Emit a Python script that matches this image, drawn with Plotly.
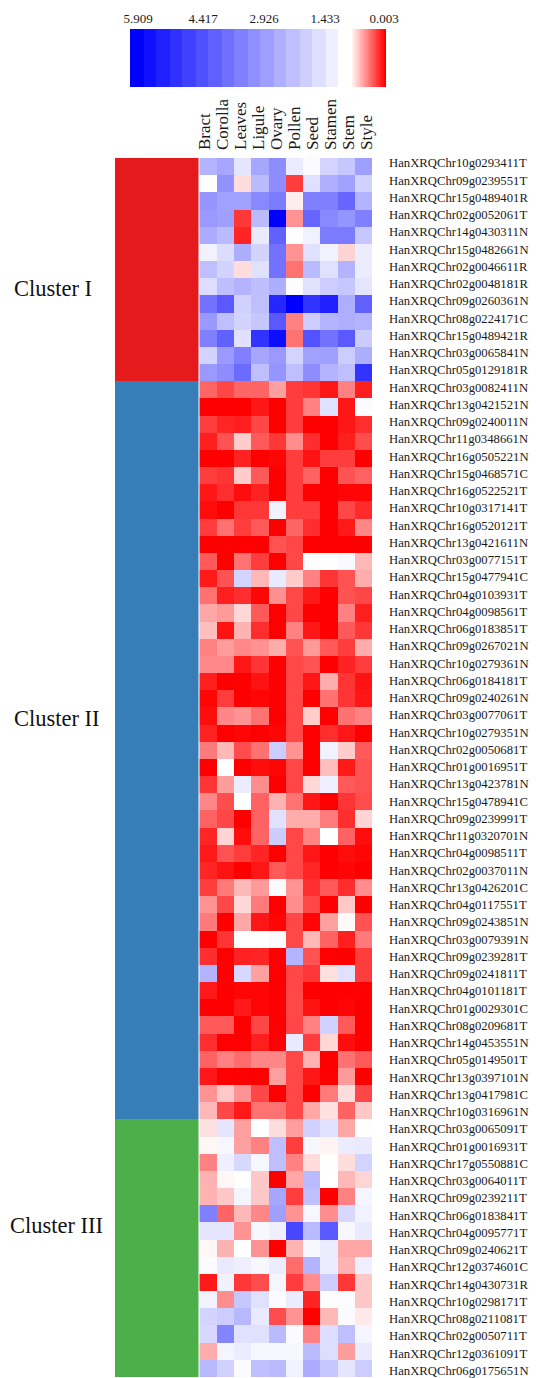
import numpy as np
import plotly.graph_objects as go

tissues = ["Bract", "Corolla", "Leaves", "Ligule", "Ovary", "Pollen", "Seed", "Stamen", "Stem", "Style"]

genes_cluster_1 = ["HanXRQChr10g0293411T", "HanXRQChr09g0239551T", "HanXRQChr15g0489401R", "HanXRQChr02g0052061T",
    "HanXRQChr14g0430311N", "HanXRQChr15g0482661N", "HanXRQChr02g0046611R", "HanXRQChr02g0048181R",
    "HanXRQChr09g0260361N", "HanXRQChr08g0224171C", "HanXRQChr15g0489421R", "HanXRQChr03g0065841N",
    "HanXRQChr05g0129181R"]
genes_cluster_2 = ["HanXRQChr03g0082411N", "HanXRQChr13g0421521N", "HanXRQChr09g0240011N", "HanXRQChr11g0348661N",
    "HanXRQChr16g0505221N", "HanXRQChr15g0468571C", "HanXRQChr16g0522521T", "HanXRQChr10g0317141T",
    "HanXRQChr16g0520121T", "HanXRQChr13g0421611N", "HanXRQChr03g0077151T", "HanXRQChr15g0477941C",
    "HanXRQChr04g0103931T", "HanXRQChr04g0098561T", "HanXRQChr06g0183851T", "HanXRQChr09g0267021N",
    "HanXRQChr10g0279361N", "HanXRQChr06g0184181T", "HanXRQChr09g0240261N", "HanXRQChr03g0077061T",
    "HanXRQChr10g0279351N", "HanXRQChr02g0050681T", "HanXRQChr01g0016951T", "HanXRQChr13g0423781N",
    "HanXRQChr15g0478941C", "HanXRQChr09g0239991T", "HanXRQChr11g0320701N", "HanXRQChr04g0098511T",
    "HanXRQChr02g0037011N", "HanXRQChr13g0426201C", "HanXRQChr04g0117551T", "HanXRQChr09g0243851N",
    "HanXRQChr03g0079391N", "HanXRQChr09g0239281T", "HanXRQChr09g0241811T", "HanXRQChr04g0101181T",
    "HanXRQChr01g0029301C", "HanXRQChr08g0209681T", "HanXRQChr14g0453551N", "HanXRQChr05g0149501T",
    "HanXRQChr13g0397101N", "HanXRQChr13g0417981C", "HanXRQChr10g0316961N"]
genes_cluster_3 = ["HanXRQChr03g0065091T", "HanXRQChr01g0016931T", "HanXRQChr17g0550881C", "HanXRQChr03g0064011T",
    "HanXRQChr09g0239211T", "HanXRQChr06g0183841T", "HanXRQChr04g0095771T", "HanXRQChr09g0240621T",
    "HanXRQChr12g0374601C", "HanXRQChr14g0430731R", "HanXRQChr10g0298171T", "HanXRQChr08g0211081T",
    "HanXRQChr02g0050711T", "HanXRQChr12g0361091T", "HanXRQChr06g0175651N"]

values_cluster_1 = [
    [2.35, 2.6, 1.34, 2.6, 3.1, 1.2, 0.93, 1.7, 1.95, 2.75],
    [0.83, 3.0, 0.72, 2.2, 3.1, 0.2, 1.45, 2.45, 2.7, 1.75],
    [2.95, 2.7, 2.7, 3.2, 3.45, 0.77, 3.37, 3.37, 3.88, 2.35],
    [2.86, 2.75, 0.18, 2.2, 5.9, 0.48, 3.88, 3.2, 2.95, 3.37],
    [2.5, 2.2, 0.12, 1.25, 3.98, 0.85, 1.08, 3.45, 3.45, 1.95],
    [1.08, 1.5, 2.45, 1.7, 3.63, 0.48, 1.45, 1.08, 0.69, 1.2],
    [2.1, 1.7, 0.72, 1.45, 3.63, 0.37, 2.2, 1.45, 2.35, 1.2],
    [1.5, 2.1, 2.35, 2.1, 2.45, 0.86, 1.45, 1.85, 1.95, 1.34],
    [3.63, 4.13, 1.75, 2.1, 5.15, 5.9, 4.89, 5.3, 2.45, 3.98],
    [2.86, 2.1, 1.7, 1.95, 4.13, 0.42, 1.85, 2.35, 2.45, 2.35],
    [3.37, 3.98, 1.45, 4.89, 5.65, 0.37, 4.28, 3.63, 4.13, 1.85],
    [1.7, 2.86, 3.37, 2.6, 2.86, 1.7, 2.7, 2.75, 1.85, 2.45],
    [2.86, 3.1, 3.78, 2.1, 2.95, 2.1, 3.1, 2.35, 2.1, 4.89],
]
values_cluster_2 = [
    [.33, .23, .33, .33, .52, .2, .17, .07, .42, .1],
    [0, 0, 0, .07, 0, .2, .42, 1.45, .07, .93],
    [.2, .12, .1, .23, 0, .2, 0, 0, .07, .15],
    [.1, .27, .66, .29, .18, .46, .15, 0, .1, .25],
    [0, 0, .11, 0, .02, .2, .06, .2, .2, 0],
    [.2, .17, .66, .29, 0, .2, .32, 0, .27, .32],
    [.07, .15, .04, .11, 0, .2, 0, 0, .02, .02],
    [.04, 0, .18, .18, 1.08, .2, .2, 0, .23, .14],
    [.2, .37, .2, .29, 0, .33, .15, 0, .08, .44],
    [0, 0, 0, 0, .27, .23, 0, 0, 0, 0],
    [.29, 0, .37, .2, 0, .23, .86, .83, .95, .6],
    [.08, .27, 1.7, .6, 1.25, .66, .42, .17, .27, .56],
    [.37, .1, .15, .02, .47, .23, .08, 0, .27, .23],
    [.54, .5, .7, .29, 0, .23, 0, 0, .42, .1],
    [.62, .06, .58, .15, 0, .42, .07, 0, .29, .18],
    [.42, .51, .44, .48, .56, .27, .5, .29, .2, .56],
    [.44, .44, .07, .17, 0, .23, .27, 0, .11, .2],
    [.1, 0, 0, .06, 0, .23, .07, .56, .17, .06],
    [.02, .2, 0, .02, 0, .23, 0, .37, .17, .07],
    [.04, .44, .48, .37, 0, .23, .66, 0, .37, .42],
    [.11, 0, .02, 0, .02, .23, 0, .15, .07, 0],
    [.4, .6, .25, .37, 1.85, .48, 0, 1.08, .66, .29],
    [0, .83, 0, .04, .02, .23, 0, .62, .08, .27],
    [.17, .51, 1.2, .46, 0, .23, .7, 1.14, .29, .27],
    [.44, .25, .83, .32, .58, .37, .07, 0, .17, .25],
    [.32, .23, 0, .32, 1.45, .56, .56, .4, .15, .69],
    [.12, .69, .04, .33, 1.85, .23, .43, .83, .32, .04],
    [.08, .27, .2, .12, 0, .23, .07, 0, .04, .02],
    [.12, .06, 0, .07, .29, .23, .12, 0, .02, 0],
    [.2, .4, .6, .5, .93, .48, .15, .29, .15, .46],
    [.48, .23, .7, .4, 0, .46, .23, 0, .65, 0],
    [.4, 0, .54, .07, .02, .23, .02, .52, .81, .27],
    [0, .17, .83, .83, .93, .23, .6, .32, .1, .4],
    [.15, 0, .11, .12, 0, 2.35, .27, 0, 0, .2],
    [2.35, 0, 1.6, .52, 0, .23, .18, .73, 1.45, .2],
    [.08, 0, .02, .02, 0, .23, 0, 0, 0, 0],
    [0, 0, .08, .02, 0, .23, .06, 0, .02, 0],
    [.29, .29, 0, .23, 0, .23, .42, 1.75, .29, 0],
    [.15, 0, 0, .1, 0, 1.25, .2, .7, .04, 0],
    [.32, .42, .35, .44, .44, .23, .58, 0, .37, .29],
    [.07, 0, 0, 0, .52, .23, .07, 0, .5, 0],
    [.48, .65, .48, .23, 0, .23, 0, .4, .72, .23],
    [.6, .23, .08, .37, .37, .23, .54, .73, .32, .65],
]
values_cluster_3 = [
    [.73, 1.34, .52, .83, .72, .51, 1.75, 1.45, .54, .85],
    [.8, .98, .52, .42, 2.1, .2, .98, .79, 1.2, 1.25],
    [.42, 1.14, 1.6, .98, 2.1, .42, .72, .85, .72, 1.7],
    [.58, .8, .83, .65, 0, .54, 2.2, .83, .6, .69],
    [.58, .65, 1.03, .65, 2.6, .2, 2.1, 0, .42, 1.03],
    [3.37, .33, .6, .44, 2.75, .48, .98, .46, 1.6, 1.08],
    [1.34, 1.34, .48, .98, 1.14, 4.49, 2.2, 4.13, .98, 1.25],
    [.8, .58, .83, .48, 0, .58, .98, 1.2, .54, .54],
    [.93, 1.25, 1.14, .98, 1.2, .35, 2.35, 1.2, .58, 1.14],
    [.08, 1.08, .18, .25, 1.03, .2, .46, 1.85, .18, .65],
    [1.08, .46, 1.95, 1.45, .88, 1.2, .12, .88, .88, .65],
    [1.7, 1.85, 2.25, 1.25, .25, .48, 0, .6, .93, .76],
    [1.6, 3.27, 1.45, 1.45, 2.2, .93, .42, 1.5, 2.1, 1.03],
    [.56, 1.03, 1.2, .98, .98, .98, 2.2, 1.5, .51, 1.25],
    [2.25, 1.75, .93, 2.1, 2.2, 1.08, 2.5, 1.95, 1.34, 1.85],
]

cluster_names = ["Cluster I", "Cluster II", "Cluster III"]
cluster_colors = ["#E41A1C", "#377EB8", "#4DAF4A"]
legend_tick_text = ["5.909", "4.417", "2.926", "1.433", "0.003"]
legend_tick_at = [3.5, 36, 66.5, 97, 126.5]   # label anchors along the 128-cell legend strip
Z_MIN, Z_WHITE, Z_MAX = 0.0, 0.83, 5.909

genes = genes_cluster_1 + genes_cluster_2 + genes_cluster_3
values = values_cluster_1 + values_cluster_2 + values_cluster_3
cluster_id = [0] * len(genes_cluster_1) + [1] * len(genes_cluster_2) + [2] * len(genes_cluster_3)
col_index = list(range(len(tissues)))
row_index = list(range(len(genes)))

# legend strip: banded blue side, smooth red side
blue_side = np.floor(np.arange(110) / 110 * 17) / 16 * (Z_WHITE - Z_MAX) + Z_MAX
red_side = np.linspace(Z_WHITE, Z_MIN, 18)
legend_strip = np.concatenate([blue_side, red_side]).round(3).tolist()

W, H = 538, 1378
X0, X1, Y0, Y1 = 199.3, 372.0, 158.0, 1377.0
def dx(a, b): return [a / W, b / W]
def dy(top, bottom): return [1 - bottom / H, 1 - top / H]

# tick labels of the source are pitched slightly wider than its cells
cell_w = (X1 - X0) / len(tissues)
cell_h = (Y1 - Y0) / len(genes)
col_tick_at = [(204 + 18 * i - X0) / cell_w - 0.5 for i in col_index]
row_tick_at = [(163 + 17.25 * i - Y0) / cell_h - 0.5 for i in row_index]

SERIF = "Liberation Serif, Times New Roman, serif"
scale = [[0, "#ff0000"], [Z_WHITE / Z_MAX, "#ffffff"], [1, "#0000ff"]]

fig = go.Figure()
fig.add_trace(go.Heatmap(z=values, x=col_index, y=row_index, coloraxis="coloraxis", customdata=[[g] * len(tissues) for g in genes],
                         hovertemplate="%{customdata}: %{z}<extra></extra>"))
fig.add_trace(go.Heatmap(z=[[c] for c in cluster_id], x=["Cluster"], y=row_index, xaxis="x2", yaxis="y", zmin=0, zmax=2, showscale=False,
                         colorscale=[[0, cluster_colors[0]], [0.5, cluster_colors[1]], [1, cluster_colors[2]]], hoverinfo="skip"))
fig.add_trace(go.Heatmap(z=[legend_strip], y=["scale"], xaxis="x3", yaxis="y3", coloraxis="coloraxis", hoverinfo="skip"))

fig.update_layout(
    width=W, height=H, margin=dict(l=0, r=0, t=0, b=0, autoexpand=False), paper_bgcolor="white", plot_bgcolor="white", showlegend=False,
    font=dict(family=SERIF, color="#1a1a1a"),
    coloraxis=dict(cmin=Z_MIN, cmax=Z_MAX, colorscale=scale, showscale=False),
    xaxis=dict(domain=dx(X0, X1), side="top", anchor="y", range=[-0.5, 9.5], showgrid=False, zeroline=False, ticks="", tickangle=-90,
               tickmode="array", tickvals=col_tick_at, ticktext=tissues,
               tickfont=dict(size=17, family=SERIF), ticklabelstandoff=7, showline=False),
    yaxis=dict(domain=dy(Y0, Y1), range=[len(genes) - 0.5, -0.5], side="right", anchor="x", showgrid=False, zeroline=False, ticks="",
               tickfont=dict(size=12.7, family=SERIF), ticklabelstandoff=16, tickmode="array", ticklabeloverflow="allow",
               tickvals=row_tick_at, ticktext=genes),
    xaxis2=dict(domain=dx(115, 198.5), anchor="y", showticklabels=False, showgrid=False, zeroline=False, ticks=""),
    xaxis3=dict(domain=dx(130, 386), anchor="y3", side="top", range=[-0.5, 127.5], showgrid=False, zeroline=False, ticks="",
                tickmode="array", tickvals=legend_tick_at, ticktext=legend_tick_text, tickfont=dict(size=13, family=SERIF), ticklabelstandoff=2),
    yaxis3=dict(domain=dy(29, 87), anchor="x3", showticklabels=False, showgrid=False, zeroline=False, ticks=""),
)
for name, yc, xl in zip(cluster_names, [288, 718, 1225], [12, 12, 8]):
    fig.add_annotation(text=name, xref="paper", yref="paper", x=xl / W, y=1 - yc / H, xanchor="left", yanchor="middle",
                       showarrow=False, font=dict(size=22.5, family=SERIF, color="#111111"))

fig.write_html("out.html", config={"displayModeBar": False}, post_script="document.body.style.margin='0';")
